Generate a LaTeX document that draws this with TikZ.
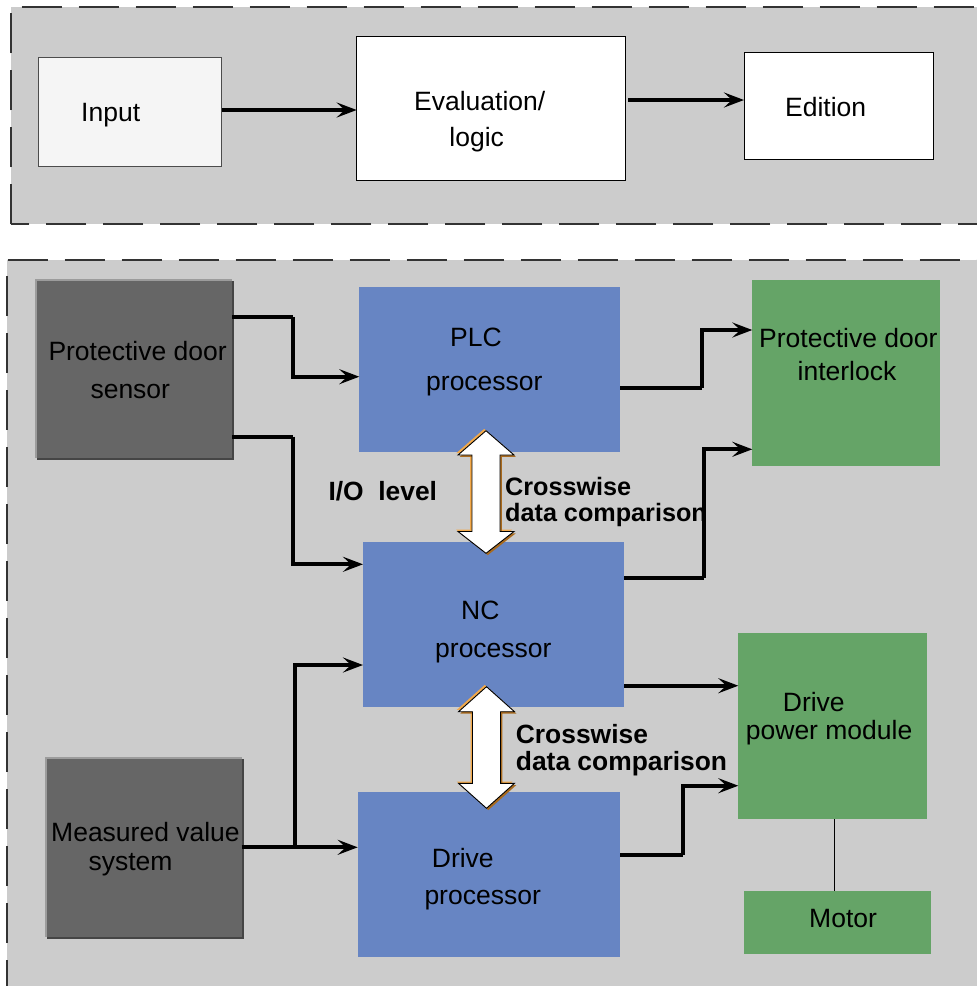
\documentclass[tikz,border=0pt]{standalone}
\usepackage{fontspec}
\setmainfont{Liberation Sans}
\usetikzlibrary{arrows.meta,calc}
\definecolor{panelgray}{HTML}{CCCCCC}
\definecolor{darkbox}{HTML}{666666}
\definecolor{darkedge}{HTML}{454545}
\definecolor{lightedge}{HTML}{9C9C9C}
\definecolor{procblue}{HTML}{6785C3}
\definecolor{drivegreen}{HTML}{65A467}
\definecolor{inputfill}{HTML}{F5F5F5}
\definecolor{bevellight}{HTML}{F2A94A}
\definecolor{beveldark}{HTML}{A86A1E}
\definecolor{dashcol}{HTML}{333333}
\begin{document}
\begin{tikzpicture}[x=1pt,y=-1pt,
  panel/.style={fill=panelgray,draw=dashcol,line width=2pt,dash pattern=on 40pt off 17pt},
  blk/.style={anchor=north west,inner sep=0pt,outer sep=0pt,rectangle},
  txt/.style={inner sep=0pt,font=\fontsize{26.5}{30}\selectfont},
  btxt/.style={inner sep=0pt,font=\fontsize{25.2}{30}\selectfont\bfseries},
  btxtb/.style={inner sep=0pt,font=\fontsize{26.4}{30}\selectfont\bfseries},
  conn/.style={line width=4.2pt,-{Stealth[length=20pt,width=15pt,inset=8pt]}},
  plainline/.style={line width=4.2pt},
]
\useasboundingbox (0,0) rectangle (977,986);
\clip (0,0) rectangle (977,986);

% panels
\path[panel] (10.7,224.3) -- (10.7,7.3) -- (1000,7.3) -- (1000,224.3) -- cycle;
\path[panel] (6.7,1000) -- (6.7,260) -- (1000,260) -- (1000,1000) -- cycle;

% ---------- top row ----------
\node[blk,fill=inputfill,draw=black!70,line width=1pt,minimum width=183.4pt,minimum height=109pt] (inp) at (38.3,57.7) {};
\node[blk,fill=white,draw=black,line width=1pt,minimum width=268.3pt,minimum height=144pt] (evl) at (356.7,36) {};
\node[blk,fill=white,draw=black,line width=1pt,minimum width=189.3pt,minimum height=106.6pt] (edi) at (744,52.7) {};

\node[txt,anchor=base west] (tinp) at (81,121.7) {Input};
\node[txt,anchor=base west] (tev1) at (414,110.7) {Evaluation/};
\node[txt,anchor=base] (tev2) at (476.7,146) {logic};
\node[txt,anchor=base west] (tedi) at (785,116.7) {Edition};

\draw[conn,line width=4.6pt] (inp.east |- 0,110) -- (evl.west |- 0,110);
\draw[conn,line width=4.6pt] (628.3,100) -- (edi.west |- 0,100);

% ---------- dark input boxes with bevel ----------
\fill[darkedge] (37,281) rectangle (234.3,460.3);
\fill[lightedge] (35,279) rectangle (232.3,458.3);
\node[blk,fill=darkbox,minimum width=195.3pt,minimum height=177.3pt] (pds) at (37,281) {};
\fill[darkedge] (47,759.3) rectangle (243.7,939.3);
\fill[lightedge] (45,757.3) rectangle (241.7,937.3);
\node[blk,fill=darkbox,minimum width=194.7pt,minimum height=178pt] (mvs) at (47,759.3) {};

% ---------- processors ----------
\node[blk,fill=procblue,minimum width=260.7pt,minimum height=165pt] (plc) at (359.3,286.7) {};
\node[blk,fill=procblue,minimum width=261.3pt,minimum height=165pt] (nc) at (363,541.7) {};
\node[blk,fill=procblue,minimum width=262.3pt,minimum height=165pt] (drv) at (357.7,791.7) {};

% ---------- green boxes ----------
\node[blk,fill=drivegreen,minimum width=187.7pt,minimum height=185.7pt] (pdi) at (752.3,280) {};
\node[blk,fill=drivegreen,minimum width=188.4pt,minimum height=185.7pt] (dpm) at (738.3,633.3) {};
\node[blk,fill=drivegreen,minimum width=187pt,minimum height=63.3pt] (mot) at (744,891) {};

% ---------- texts ----------
\node[txt,anchor=base west] (t1) at (48.3,360) {Protective door};
\node[txt,anchor=base] (t2) at (130.3,398.3) {sensor};
\node[txt,anchor=base west] (t3) at (51,841.7) {Measured value};
\node[txt,anchor=base west] (t4) at (88.3,870) {system};
\node[txt,anchor=base west] (t5) at (450,346.7) {PLC};
\node[txt,anchor=base west] (t6) at (426,390) {processor};
\node[txt,anchor=base west] (t7) at (461,619) {NC};
\node[txt,anchor=base west] (t8) at (435,657.3) {processor};
\node[txt,anchor=base west] (t9) at (431.7,867.3) {Drive};
\node[txt,anchor=base west] (t10) at (424.3,904) {processor};
\node[txt,anchor=base west] (t11) at (759,347.7) {Protective door};
\node[txt,anchor=base] (t12) at (847,380) {interlock};
\node[txt,anchor=base west] (t13) at (782.7,711.7) {Drive};
\node[txt,anchor=base west] (t14) at (745.7,739) {power module};
\node[txt,anchor=base west] (t15) at (809,927.3) {Motor};
\node[btxtb,anchor=base west] (t16) at (328.3,500) {I/O\ \ level};
\node[btxt,anchor=base west] (t17) at (505,495) {Crosswise};
\node[btxt,anchor=base west] (t18) at (505,521) {data comparison};
\node[btxtb,anchor=base west] (t19) at (515.7,743.3) {Crosswise};
\node[btxtb,anchor=base west] (t20) at (515.7,770) {data comparison};

% ---------- double arrows ----------
\newcommand{\dblarrow}[5]{% cx, top tip, top base, bottom base, bottom tip
  \foreach \dx/\dy/\col in {-1.8/-1.8/bevellight, 1.8/1.8/beveldark}{
    \fill[\col] ($(#1,#2)+(\dx,\dy)$) -- ($(#1+28,#3)+(\dx,\dy)$) -- ($(#1+14,#3)+(\dx,\dy)$) -- ($(#1+14,#4)+(\dx,\dy)$) -- ($(#1+28,#4)+(\dx,\dy)$) -- ($(#1,#5)+(\dx,\dy)$) -- ($(#1-28,#4)+(\dx,\dy)$) -- ($(#1-14,#4)+(\dx,\dy)$) -- ($(#1-14,#3)+(\dx,\dy)$) -- ($(#1-28,#3)+(\dx,\dy)$) -- cycle;
  }
  \filldraw[fill=white,draw=black,line width=0.9pt,line join=miter] (#1,#2) -- (#1+28,#3) -- (#1+14,#3) -- (#1+14,#4) -- (#1+28,#4) -- (#1,#5) -- (#1-28,#4) -- (#1-14,#4) -- (#1-14,#3) -- (#1-28,#3) -- cycle;
}
\dblarrow{486}{430.7}{455}{531.5}{553.3}
\dblarrow{486.5}{686.7}{711.7}{783.3}{808.3}

% ---------- connectors ----------
\coordinate (k1) at (293.3,317.3);
\coordinate (k2) at (293.3,436.7);
\coordinate (j1) at (295,847.3);
\coordinate (k3) at (701.7,388.3);
\coordinate (k4) at (704.3,577.7);
\coordinate (k5) at (683,855.3);

\draw[plainline] (pds.east |- k1) -- (k1);
\draw[conn] (k1) |- (plc.west |- 0,376.7);
\draw[plainline] (pds.east |- k2) -- (k2);
\draw[conn] (k2) |- (nc.west |- 0,564.3);

\draw[conn] (mvs.east |- j1) -- (drv.west |- j1);
\draw[conn] (j1) |- (nc.west |- 0,665);

\draw[plainline] (plc.east |- k3) -- (k3);
\draw[conn] (k3) |- (pdi.west |- 0,330);
\draw[plainline] (nc.east |- k4) -- (k4);
\draw[conn] (k4) |- (pdi.west |- 0,449.3);

\draw[conn] (nc.east |- 0,685.7) -- (dpm.west |- 0,685.7);
\draw[plainline] (drv.east |- k5) -- (k5);
\draw[conn] (k5) |- (dpm.west |- 0,785.7);

\draw[line width=1pt] (dpm.south -| 834.3,0) -- (mot.north -| 834.3,0);
\end{tikzpicture}
\end{document}
